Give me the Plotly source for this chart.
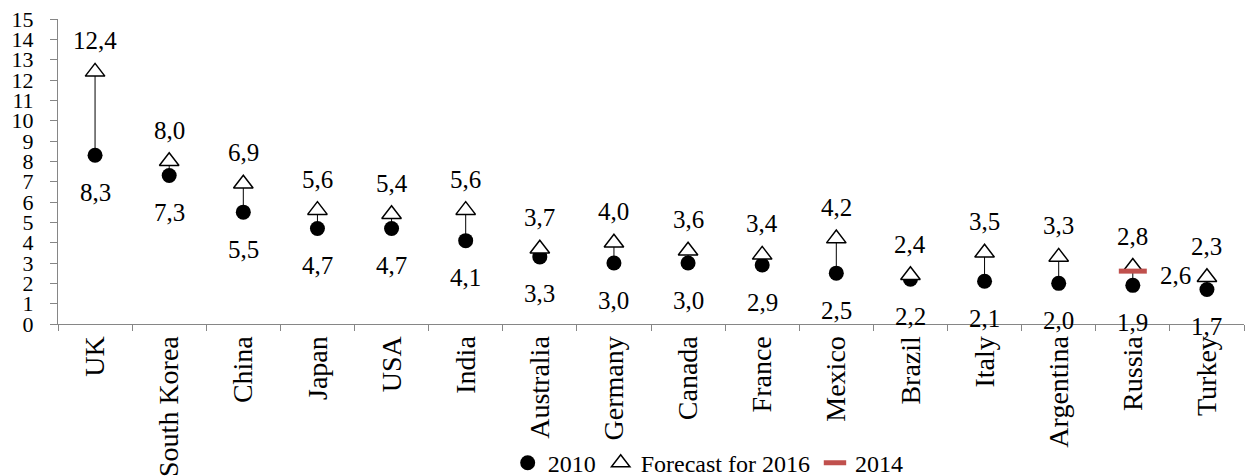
import plotly.graph_objects as go

countries = ["UK", "South Korea", "China", "Japan", "USA", "India", "Australia", "Germany",
             "Canada", "France", "Mexico", "Brazil", "Italy", "Argentina", "Russia", "Turkey"]
values_2010 = [8.3, 7.3, 5.5, 4.7, 4.7, 4.1, 3.3, 3.0, 3.0, 2.9, 2.5, 2.2, 2.1, 2.0, 1.9, 1.7]
forecast_2016 = [12.4, 8.0, 6.9, 5.6, 5.4, 5.6, 3.7, 4.0, 3.6, 3.4, 4.2, 2.4, 3.5, 3.3, 2.8, 2.3]
countries_2014 = ["Russia"]
values_2014 = [2.6]

FONT = "Liberation Serif"
LBL = 25   # data labels
XT = 28    # category labels
YT = 22    # value ticks
LG = 24    # legend

def fmt(v):
    return f"{v:.1f}".replace(".", ",")

fig = go.Figure()

# connecting lines
lx, ly = [], []
for c, a, b in zip(countries, values_2010, forecast_2016):
    lx += [c, c, None]
    ly += [a, b, None]
fig.add_trace(go.Scatter(x=lx, y=ly, mode="lines", line=dict(color="#000000", width=1),
                         showlegend=False, hoverinfo="skip"))

fig.add_trace(go.Scatter(x=countries, y=values_2010, mode="markers", name="2010",
                         marker=dict(symbol="circle", size=15, color="#000000")))
fig.add_trace(go.Scatter(x=countries, y=forecast_2016, mode="markers", name="Forecast for 2016",
                         marker=dict(symbol="triangle-up", size=17, color="#ffffff",
                                     line=dict(color="#000000", width=1.5))))
fig.add_trace(go.Scatter(x=countries_2014, y=values_2014, mode="markers", name="2014",
                         marker=dict(symbol="line-ew", size=20,
                                     line=dict(color="#c0504d", width=5))))

annotations = []
for c, v in zip(countries, forecast_2016):
    annotations.append(dict(x=c, y=v, text=fmt(v), showarrow=False, yshift=31,
                            font=dict(family=FONT, size=LBL, color="#000000")))
for c, v in zip(countries, values_2010):
    annotations.append(dict(x=c, y=v, text=fmt(v), showarrow=False, yshift=-37,
                            font=dict(family=FONT, size=LBL, color="#000000")))
for c, v in zip(countries_2014, values_2014):
    annotations.append(dict(x=c, y=v, text=fmt(v), showarrow=False, xshift=43, yshift=-4,
                            font=dict(family=FONT, size=LBL, color="#000000")))

fig.update_layout(
    width=1249, height=476,
    margin=dict(l=58, r=5, t=19, b=152, autoexpand=False),
    paper_bgcolor="#ffffff", plot_bgcolor="#ffffff",
    font=dict(family=FONT, size=LBL, color="#000000"),
    annotations=annotations,
    showlegend=True,
    legend=dict(orientation="h", xref="container", yref="container",
                x=0.567, xanchor="center", y=0.027, yanchor="middle",
                font=dict(family=FONT, size=LG, color="#000000"),
                itemwidth=30, traceorder="normal", bgcolor="rgba(0,0,0,0)"),
    xaxis=dict(type="category", categoryorder="array", categoryarray=countries,
               range=[-0.5, 15.5], tickson="boundaries", ticks="outside", ticklen=6,
               tickcolor="#868686", showline=True, linecolor="#868686", linewidth=1,
               tickangle=-90, showgrid=False, zeroline=False, automargin=False,
               tickfont=dict(family=FONT, size=XT, color="#000000")),
    yaxis=dict(range=[0, 15], dtick=1, tick0=0, ticks="outside", ticklen=7,
               tickcolor="#868686", showline=True, linecolor="#868686", linewidth=1,
               showgrid=False, zeroline=False, automargin=False, ticklabelstandoff=12,
               tickfont=dict(family=FONT, size=YT, color="#000000")),
)

fig.write_html("out.html")
